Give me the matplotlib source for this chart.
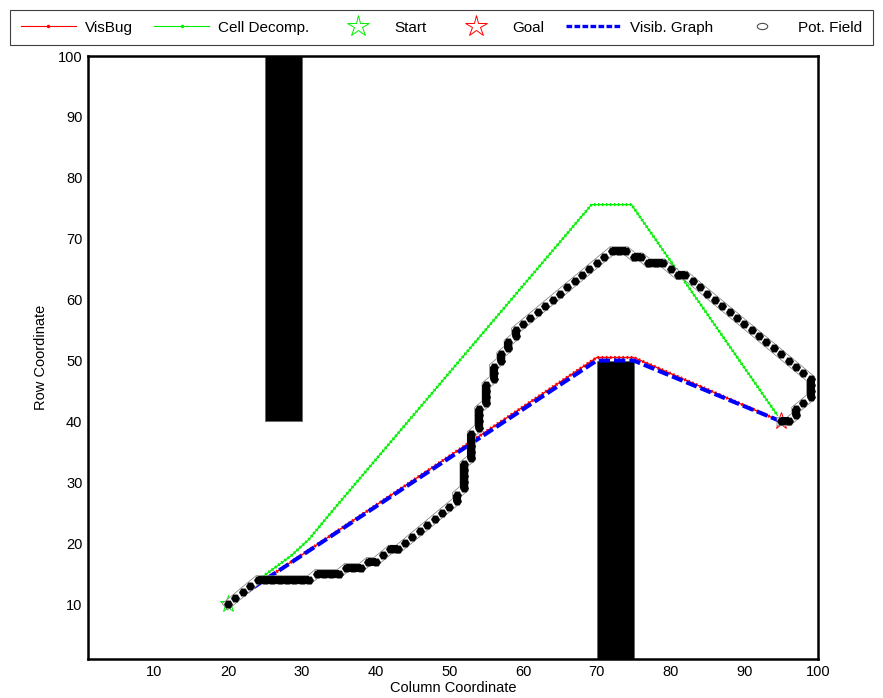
import matplotlib
matplotlib.use("Agg")
import matplotlib.pyplot as plt
from matplotlib.lines import Line2D
from matplotlib.patches import Rectangle
from matplotlib.path import Path

plt.rcParams['font.family'] = ['Liberation Sans', 'DejaVu Sans']

# obstacles: column range, row range
obs_x0 = [25, 70]
obs_x1 = [30, 75]
obs_y0 = [40, 1]
obs_y1 = [100, 50]

start_xy = (20, 10)
goal_xy = (95, 40)

# VisBug path
visbug_x = [20, 70, 75, 95]
visbug_y = [10, 50.5, 50.5, 40]

# cell decomposition path
cell_x = [20, 25, 28.6, 31, 34.2, 69.3, 74.7, 94.5]
cell_y = [10, 14.8, 18, 20.7, 25.4, 75.6, 75.6, 41]

# visibility graph path
visg_x = [20, 70, 75, 95]
visg_y = [10, 50, 50, 40]

# potential field path (grid cells)
pot_x = [20, 21, 22, 23, 24, 25, 26, 27, 28, 29, 30, 31,
         32, 33, 34, 35, 36, 37, 38, 39, 40, 41, 42, 43,
         44, 45, 46, 47, 48, 49, 50, 51, 51,
         52, 52, 52, 52, 52, 53, 53, 53, 53, 53,
         54, 54, 54, 54, 55, 55, 55, 55, 56, 56, 56,
         57, 57, 58, 58, 59, 59,
         60, 61, 62, 63, 64, 65, 66, 67, 68, 69, 70, 71,
         72, 73, 74, 75, 76, 77, 78, 79, 80, 81, 82,
         83, 84, 85, 86, 87, 88, 89, 90, 91, 92, 93, 94, 95, 96, 97, 98,
         99, 99, 99, 99, 98, 97, 97, 96, 95]
pot_y = [10, 11, 12, 13, 14, 14, 14, 14, 14, 14, 14, 14,
         15, 15, 15, 15, 16, 16, 16, 17, 17, 18, 19, 19,
         20, 21, 22, 23, 24, 25, 26, 27, 28,
         29, 30, 31, 32, 33, 34, 35, 36, 37, 38,
         39, 40, 41, 42, 43, 44, 45, 46, 47, 48, 49,
         50, 51, 52, 53, 54, 55,
         56, 57, 58, 59, 60, 61, 62, 63, 64, 65, 66, 67,
         68, 68, 68, 67, 67, 66, 66, 66, 65, 64, 64,
         63, 62, 61, 60, 59, 58, 57, 56, 55, 54, 53, 52, 51, 50, 49, 48,
         47, 46, 45, 44, 43, 42, 41, 40, 40]

x_ticks = [10, 20, 30, 40, 50, 60, 70, 80, 90, 100]
y_ticks = [10, 20, 30, 40, 50, 60, 70, 80, 90, 100]

RED = '#ff0000'
GREEN = '#00ee00'
BLUE = '#0000ff'

hex_marker = Path([(-1, 0), (-0.5, 0.86), (0.5, 0.86), (1, 0),
                   (0.5, -0.86), (-0.5, -0.86), (-1, 0)], closed=True)
circ = Path.unit_circle()
ell_marker = Path(circ.vertices * [1, 0.6], circ.codes)

fig = plt.figure(figsize=(8.83, 6.98), dpi=100)
ax = fig.add_axes([88 / 883, 1 - 659 / 698, 730 / 883, 603 / 698])

for x0, x1, y0, y1 in zip(obs_x0, obs_x1, obs_y0, obs_y1):
    ax.add_patch(Rectangle((x0, y0), x1 - x0, y1 - y0, facecolor='k',
                           edgecolor='0.4', lw=0.6, zorder=1))

# start / goal under the paths
ax.plot(*start_xy, ls='none', marker='*', ms=12.5, mfc='none', mec=GREEN,
        mew=0.7, zorder=2)
ax.plot(*goal_xy, ls='none', marker='*', ms=12.5, mfc='none', mec=RED,
        mew=0.7, zorder=2)

# cell decomposition: thin line + dense dots
ax.plot(cell_x, cell_y, color=GREEN, lw=0.9, zorder=3)
ax.plot(cell_x, cell_y, color=GREEN, lw=2.2, ls=(0, (0.5, 0.8)), zorder=3)

# visbug
ax.plot(visbug_x, visbug_y, color=RED, lw=1.0, zorder=4)
ax.plot(visbug_x, visbug_y, color=RED, lw=2.3, ls=(0, (0.5, 0.8)), zorder=4)

# visibility graph
ax.plot(visg_x, visg_y, color=BLUE, lw=2.9, ls=(0, (2.8, 1.0)), zorder=5)

# potential field: outlined strip, black cells, solid where steps are straight
ax.plot(pot_x, pot_y, color='0.5', lw=6.5, solid_joinstyle='miter', zorder=6)
ax.plot(pot_x, pot_y, color='w', lw=5.4, solid_joinstyle='miter', zorder=6)
for i in range(len(pot_x) - 1):
    if pot_x[i] == pot_x[i + 1] or pot_y[i] == pot_y[i + 1]:
        ax.plot(pot_x[i:i + 2], pot_y[i:i + 2], color='k', lw=5.7,
                solid_capstyle='butt', zorder=7)
ax.plot(pot_x, pot_y, ls='none', marker=hex_marker, ms=6.1, mfc='k',
        mec='k', mew=0.3, zorder=7)

ax.set_xlim(1, 100)
ax.set_ylim(1, 100)
ax.set_xticks(x_ticks)
ax.set_yticks(y_ticks)
ax.tick_params(length=0, labelsize=10.5, pad=4)
ax.set_xlabel('Column Coordinate', fontsize=10.5, labelpad=2)
ax.set_ylabel('Row Coordinate', fontsize=10.5, labelpad=7)
for s in ax.spines.values():
    s.set_linewidth(1.8)
    s.set_color('k')

handles = [
    Line2D([], [], color=RED, lw=0.8, marker='.', ms=3),
    Line2D([], [], color=GREEN, lw=0.8, marker='.', ms=3),
    Line2D([], [], ls='none', marker='*', ms=16, mfc='none', mec=GREEN, mew=0.7),
    Line2D([], [], ls='none', marker='*', ms=16, mfc='none', mec=RED, mew=0.7),
    Line2D([], [], color=BLUE, lw=2.4, ls=(0, (1.7, 0.7))),
    Line2D([], [], ls='none', marker=ell_marker, ms=7.5, mfc='w', mec='0.3', mew=0.8),
]
labels = ['VisBug', 'Cell Decomp.', 'Start', 'Goal', 'Visib. Graph', 'Pot. Field']
leg = fig.legend(handles, labels, loc='upper left', ncol=6, mode='expand',
                 bbox_to_anchor=(10 / 883, 1 - 10 / 698, 863 / 883, 0.0),
                 bbox_transform=fig.transFigure, fontsize=11, numpoints=1,
                 handlelength=3.6, handletextpad=0.6, borderpad=0.7,
                 borderaxespad=0, fancybox=False, framealpha=1)
leg.get_frame().set_edgecolor('#404040')
leg.get_frame().set_linewidth(0.8)

fig.savefig('out.png', dpi=100)
